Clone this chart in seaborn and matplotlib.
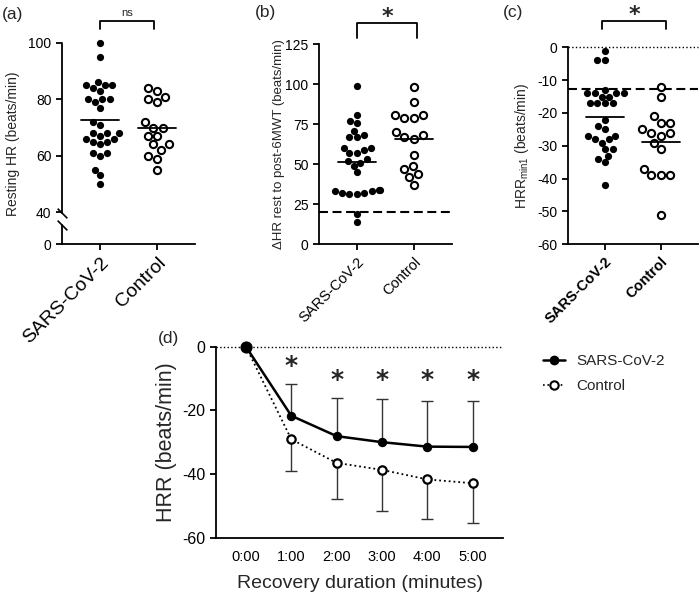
import numpy as np
import pandas as pd
import seaborn as sns
import matplotlib.pyplot as plt
from matplotlib.lines import Line2D

# groups shared by panels (a)-(c)
groups = ["SARS-CoV-2", "Control"]

# (a) resting heart rate, beats/min
rest_hr_sars = [100, 95, 86, 85, 85, 85, 84, 83, 80, 80, 80, 79, 77, 72, 71,
                68, 68, 68, 67, 66, 66, 65, 65, 64, 61, 61, 60, 55, 53, 50]
rest_hr_ctrl = [84, 83, 81, 80, 79, 72, 70, 70, 67, 67, 64, 64, 62, 60, 59, 55]

# (b) delta HR rest to post-6MWT, beats/min
delta_hr_sars = [99, 81, 77, 76, 71, 68, 67, 67, 60, 60, 59, 57, 57, 53, 52,
                 51, 49, 45, 34, 34, 33, 33, 32, 32, 31, 31, 19, 14]
delta_hr_ctrl = [98, 89, 81, 81, 79, 79, 70, 68, 67, 66, 56, 49, 47, 44, 42, 37]
delta_hr_cutoff = 19.8

# (c) HRR at 1 min, beats/min
hrr1_sars = [-1, -4, -4, -13, -14, -14, -14, -14, -15, -15, -17, -17, -17, -17,
             -22, -24, -25, -27, -27, -28, -28, -29, -31, -31, -33, -34, -35, -42]
hrr1_ctrl = [-12, -15, -21, -23, -23, -25, -26, -26, -27, -29, -31, -37, -39,
             -39, -39, -51]
hrr1_cutoff = -12.8

# (d) heart rate recovery over time, mean and SD
times = ["0:00", "1:00", "2:00", "3:00", "4:00", "5:00"]
hrr_sars_mean = [0, -21.7, -28.1, -30.0, -31.4, -31.5]
hrr_sars_sd = [0, 10.1, 12.1, 13.6, 14.3, 14.4]
hrr_ctrl_mean = [0, -29.1, -36.5, -38.7, -41.7, -42.9]
hrr_ctrl_sd = [0, 10.1, 11.4, 12.9, 12.4, 12.5]
sig_times = ["1:00", "2:00", "3:00", "4:00", "5:00"]

sns.set_style("ticks")
plt.rcParams["font.family"] = ["Liberation Sans", "DejaVu Sans"]
plt.rcParams["axes.unicode_minus"] = False
plt.rcParams["axes.linewidth"] = 1.3
plt.rcParams["xtick.major.width"] = 1.3
plt.rcParams["ytick.major.width"] = 1.3
plt.rcParams["xtick.major.size"] = 4
plt.rcParams["ytick.major.size"] = 4
plt.rcParams["xtick.color"] = "black"
plt.rcParams["ytick.color"] = "black"
plt.rcParams["axes.edgecolor"] = "black"

fig = plt.figure(figsize=(7, 5.93), dpi=100)
ax_a = fig.add_axes([0.0886, 0.5885, 0.19, 0.339])
ax_b = fig.add_axes([0.4557, 0.5885, 0.19, 0.3368])
ax_c = fig.add_axes([0.811, 0.588, 0.186, 0.3322])
ax_d = fig.add_axes([0.3086, 0.0933, 0.41, 0.3221])


def scatter_panel(ax, sars, ctrl, tick_size=10.5, bold=False):
    df = pd.DataFrame({
        "group": [groups[0]] * len(sars) + [groups[1]] * len(ctrl),
        "value": sars + ctrl,
    })
    sns.swarmplot(data=df[df["group"] == groups[0]], x="group", y="value",
                  order=groups, color="black", size=5.2, ax=ax)
    sns.swarmplot(data=df[df["group"] == groups[1]], x="group", y="value",
                  order=groups, color="white", edgecolor="black",
                  linewidth=1.5, size=5.2, ax=ax)
    for coll in ax.collections:
        coll.set_clip_on(False)
    means = df.groupby("group")["value"].mean()
    for i, g in enumerate(groups):
        ax.plot([i - 0.34, i + 0.34], [means[g], means[g]], color="black",
                lw=1.3, zorder=4)
    ax.set_xlim(-0.67, 1.67)
    ax.set_xlabel("")
    ax.set_xticks([0, 1])
    ax.set_xticklabels(groups, rotation=45, ha="right", va="top",
                       rotation_mode="anchor", fontsize=tick_size,
                       fontweight="bold" if bold else "normal")
    ax.tick_params(axis="y", labelsize=10)
    sns.despine(ax=ax)


def bracket(ax, x0, x1, y_top, y_low, label, size, dy):
    ax.plot([x0, x0, x1, x1], [y_low, y_top, y_top, y_low], color="black",
            lw=1.3, clip_on=False)
    ax.annotate(label, ((x0 + x1) / 2, y_top), xytext=(0, dy),
                textcoords="offset points", ha="center", va="bottom",
                fontsize=size, fontweight="bold" if label == "*" else "normal",
                family="DejaVu Sans" if label == "*" else None,
                annotation_clip=False)


# ---- (a) with broken y axis
scatter_panel(ax_a, rest_hr_sars, rest_hr_ctrl, tick_size=14)
k = 0.283


def fwd(y):
    y = np.asarray(y, dtype=float)
    return np.where(y >= 40, y, 40 - (40 - y) * k)


def inv(z):
    z = np.asarray(z, dtype=float)
    return np.where(z >= 40, z, 40 - (40 - z) / k)


ax_a.set_yscale("function", functions=(fwd, inv))
ax_a.set_ylim(0, 100)
ax_a.set_yticks([0, 40, 60, 80, 100])
ax_a.set_yticklabels(["0", "40", "60", "80", "100"])
ax_a.set_ylabel("Resting HR (beats/min)", fontsize=10, labelpad=6)
ax_a.spines["left"].set_visible(False)
tr = ax_a.get_yaxis_transform()
ax_a.plot([0, 0], [38.5, 100], transform=tr, color="black", lw=1.3, clip_on=False)
ax_a.plot([0, 0], [0, 24], transform=tr, color="black", lw=1.3, clip_on=False)
ax_a.plot([0, 0], [38.5, 24], transform=tr, linestyle="none",
          marker=[(-1, 1), (1, -1)], ms=7, mew=1.2, color="black", clip_on=False)
bracket(ax_a, 0, 0.95, 107.8, 105, "ns", 8, 2)

# ---- (b)
scatter_panel(ax_b, delta_hr_sars, delta_hr_ctrl)
ax_b.set_ylim(0, 125)
ax_b.set_yticks([0, 25, 50, 75, 100, 125])
ax_b.axhline(delta_hr_cutoff, color="black", lw=1.5, ls=(0, (4.3, 2.2)), zorder=1)
ax_b.set_ylabel("\u0394HR rest to post-6MWT (beats/min)", fontsize=9.5, labelpad=0)
bracket(ax_b, 0, 1.05, 138.3, 129, "*", 16, -3)

# ---- (c)
scatter_panel(ax_c, hrr1_sars, hrr1_ctrl, bold=True)
ax_c.set_ylim(-60, 0)
ax_c.set_yticks([0, -10, -20, -30, -40, -50, -60])
ax_c.axhline(0, color="black", lw=1, ls=":", zorder=1, clip_on=False)
ax_c.axhline(hrr1_cutoff, color="black", lw=1.5, ls=(0, (4.3, 2.2)), zorder=1)
ax_c.set_ylabel("HRR$_{\\mathregular{min1}}$ (beats/min)", fontsize=10)
bracket(ax_c, -0.05, 1.1, 8.0, 5.6, "*", 16, -3)

# ---- (d) recovery curves
x_pos = np.arange(len(times))
df_d = pd.DataFrame({
    "time": np.concatenate([x_pos, x_pos]),
    "hrr": hrr_sars_mean + hrr_ctrl_mean,
    "sd": hrr_sars_sd + hrr_ctrl_sd,
    "group": [groups[0]] * len(times) + [groups[1]] * len(times),
})
ax_d.axhline(0, color="black", lw=1, ls=":", zorder=0)

ctrl = df_d[df_d["group"] == groups[1]]
sars = df_d[df_d["group"] == groups[0]]
ec = dict(color="#333333", lw=1)
cap = 0.13
c_e = ctrl[ctrl["sd"] > 0]
ax_d.vlines(c_e["time"], c_e["hrr"], c_e["hrr"] - c_e["sd"], **ec)
ax_d.hlines(c_e["hrr"] - c_e["sd"], c_e["time"] - cap, c_e["time"] + cap, **ec)
s_e = sars[sars["sd"] > 0]
ax_d.vlines(s_e["time"], s_e["hrr"], s_e["hrr"] + s_e["sd"], **ec)
ax_d.hlines(s_e["hrr"] + s_e["sd"], s_e["time"] - cap, s_e["time"] + cap, **ec)

sns.lineplot(data=ctrl, x="time", y="hrr", color="black", lw=1.3,
             linestyle=":", marker="o", markersize=6, markerfacecolor="white",
             markeredgecolor="black", markeredgewidth=1.6, ax=ax_d, zorder=3)
sns.lineplot(data=sars, x="time", y="hrr", color="black", lw=1.8,
             marker="o", markersize=6, markeredgecolor="black", ax=ax_d, zorder=4)
for ln in ax_d.lines:
    ln.set_clip_on(False)
# the shared starting point is drawn a bit larger in the original
ax_d.lines[-1].set_markevery([0])
sns.lineplot(data=sars, x="time", y="hrr", color="black", lw=0,
             marker="o", markersize=6, markeredgecolor="black", ax=ax_d, zorder=5)
ax_d.lines[-1].set_markevery(list(range(1, len(times))))
ax_d.lines[-2].set_markersize(8)
for ln in ax_d.lines:
    ln.set_clip_on(False)

for t in sig_times:
    i = times.index(t)
    ax_d.text(i, -6.0 if i == 1 else -10.5, "*", ha="center", va="center",
              fontsize=18, fontweight="bold", family="DejaVu Sans")

ax_d.set_xlim(-0.66, 5.67)
ax_d.set_ylim(-60, 0)
ax_d.set_xticks(x_pos)
ax_d.set_xticklabels(times, fontsize=10.5)
ax_d.set_yticks([0, -20, -40, -60])
ax_d.tick_params(axis="y", labelsize=11.5)
ax_d.tick_params(axis="x", length=0, pad=9)
ax_d.set_xlabel("Recovery duration (minutes)", fontsize=14, labelpad=8)
ax_d.set_ylabel("HRR (beats/min)", fontsize=15.5)
sns.despine(ax=ax_d)

handles = [
    Line2D([], [], color="black", lw=1.8, marker="o", ms=6),
    Line2D([], [], color="black", lw=1.2, ls=":", marker="o", ms=6,
           mfc="white", mew=1.5),
]
fig.legend(handles, groups, loc="upper left", bbox_to_anchor=(0.775, 0.403),
           frameon=False, fontsize=11, handlelength=1.5, handletextpad=0.7,
           labelspacing=0.75, borderpad=0, borderaxespad=0)

for lbl, x, y in [("(a)", 0.003, 0.976), ("(b)", 0.364, 0.979),
                  ("(c)", 0.718, 0.979), ("(d)", 0.225, 0.43)]:
    fig.text(x, y, lbl, fontsize=12.5, va="center", ha="left")

fig.savefig("out.png", dpi=100)
